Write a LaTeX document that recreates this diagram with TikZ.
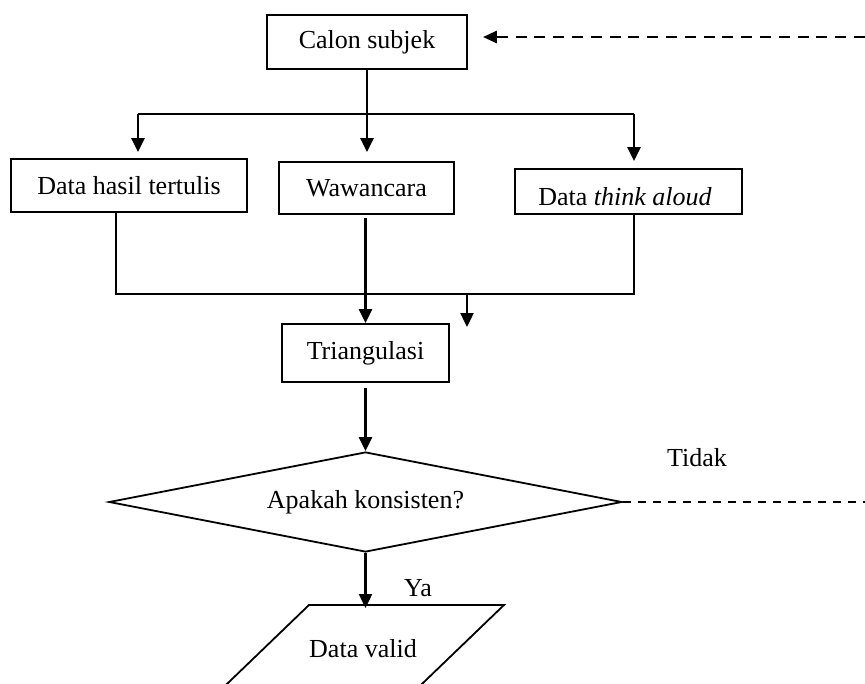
\documentclass[tikz,border=0pt]{standalone}
\usepackage{fontspec}
\setmainfont{Liberation Serif}
\usetikzlibrary{arrows.meta,shapes.geometric}
\begin{document}
\begin{tikzpicture}[x=1pt,y=-1pt,
  txt/.style={font=\fontsize{26}{30}\selectfont},
  box/.style={draw,line width=1.8pt,inner sep=0pt,txt},
  lbl/.style={inner sep=0pt,txt},
  ln/.style={line width=1.8pt},
  arr/.style={line width=2.4pt,-{Triangle[length=14pt,width=13pt]}},
  dashtop/.style={line width=2.8pt,dash pattern=on 11pt off 7.8pt,-{Triangle[length=14pt,width=12pt]}},
  dashbot/.style={line width=1.8pt,dash pattern=on 8pt off 7pt}]
\useasboundingbox (0,0) rectangle (865,683);

\node[box,minimum width=200pt,minimum height=54pt] (calon) at (367,42) {Calon subjek};
\node[box,minimum width=236pt,minimum height=53pt] (hasil) at (129,185.5) {Data hasil tertulis};
\node[box,minimum width=175pt,minimum height=52pt] (waw) at (366.5,188) {Wawancara};
\node[box,minimum width=227pt,minimum height=45pt] (think) at (628.5,191.5) {};
\node[lbl,anchor=base] (thinktxt) at (625,205) {Data \textit{think aloud}};
\node[box,minimum width=167pt,minimum height=58pt] (tri) at (365.5,353) {Triangulasi};
\node[box,shape=diamond,shape aspect=5.13,minimum width=513pt,minimum height=100pt] (dia) at (365.5,502) {Apakah konsisten?};
\node[lbl] (valid) at (363,649) {Data valid};
\node[lbl] (tidak) at (697,458) {Tidak};
\node[lbl] (ya) at (418,588) {Ya};

% parallelogram of "Data valid" (bottom edge falls outside the page)
\coordinate (pa) at (309,605);
\coordinate (pb) at (504,605);
\coordinate (pc) at (415.7,690);
\coordinate (pd) at (220.7,690);
\draw[line width=1.8pt,line join=miter] (pd) -- (pa) -- (pb) -- (pc) -- cycle;

% feedback dashed lines
\coordinate (rt) at (865,37);
\coordinate (rb) at (865,502);
\draw[dashtop,shorten >=15pt] (rt) -- (calon.east |- rt);
\draw[dashbot] (dia.east) -- (rb);

% split
\coordinate (tl) at (138,114);
\coordinate (tr) at (634,114);
\draw[ln] (calon.south) -- (calon.south |- tl);
\draw[ln] (tl) -- (tr);
\draw[arr,shorten >=6pt] (tl) -- (tl |- hasil.north);
\draw[arr,shorten >=9pt] (calon.south |- tl) -- (calon.south |- waw.north);
\draw[arr,shorten >=7pt] (tr) -- (tr |- think.north);

% join
\coordinate (bl) at (116,294);
\coordinate (br) at (634,294);
\coordinate (bm) at (467,294);
\coordinate (bmend) at (467,327);
\draw[ln] (hasil.south -| bl) -- (bl) -- (br) -- ([yshift=2pt]think.south -| br);
\draw[arr] (bm) -- (bmend);
\draw[arr,shorten <=3pt] (waw.south -| tri.north) -- (tri.north);
\draw[arr,shorten <=5pt] (tri.south) -- (dia.north);
\draw[arr,shorten >=-3pt] (dia.south) -- (dia.south |- pa);
\end{tikzpicture}
\end{document}
